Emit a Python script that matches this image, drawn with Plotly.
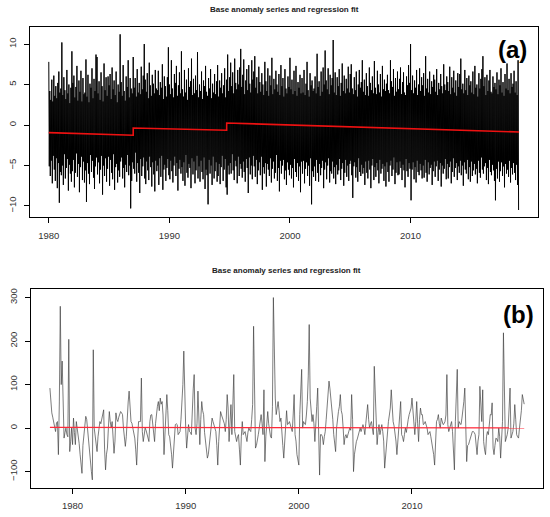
import plotly.graph_objects as go

# (a) daily base anomaly, read as 24 samples a year (alternating peaks), 1980-2018
anom_1980s = [
    7.8, -5.1, 4.2, -6.3, 3.1, -4.4, 5.6, -7.2, 2.9, -3.8, 6.1, -5.5, 3.6, -6.9, 4.8, -4.1, 3.3, -7.8, 5.2, -4.7, 6.6, -9.6, 4.0, -5.8,
    4.5, -6.2, 10.2, -5.0, 3.7, -7.4, 5.9, -3.6, 4.3, -6.6, 3.2, -5.3, 6.8, -4.2, 3.9, -8.1, 5.0, -4.9, 2.7, -6.0, 4.6, -7.0, 9.1, -5.7,
    5.2, -4.3, 6.1, -7.7, 3.4, -5.9, 4.7, -3.5, 7.3, -6.4, 3.0, -4.8, 5.5, -8.3, 4.1, -5.2, 6.7, -3.9, 2.9, -6.8, 5.8, -4.5, 3.8, -7.1,
    4.0, -5.6, 8.1, -9.5, 3.5, -4.7, 6.2, -6.0, 2.8, -7.3, 5.1, -3.7, 4.6, -5.8, 7.0, -4.4, 3.3, -6.5, 5.7, -7.9, 4.2, -5.1, 8.7, -4.0,
    8.4, -6.1, 3.9, -4.6, 5.4, -7.2, 3.1, -5.5, 6.5, -3.8, 4.8, -8.6, 2.9, -5.0, 7.6, -6.3, 4.3, -4.1, 5.9, -7.0, 3.6, -5.4, 6.0, -3.9,
    4.9, -7.5, 6.3, -4.3, 3.2, -5.9, 7.1, -6.7, 4.4, -3.6, 5.5, -8.0, 3.7, -5.2, 6.6, -4.8, 2.8, -7.1, 5.0, -5.6, 4.1, -6.4, 11.2, -4.5,
    5.3, -4.0, 3.6, -6.6, 7.4, -5.3, 4.2, -7.7, 3.0, -4.9, 6.0, -5.8, 4.7, -3.7, 8.0, -6.2, 3.4, -5.0, 5.8, -10.3, 4.5, -6.9, 3.9, -4.6,
    8.4, -5.4, 4.6, -6.0, 5.8, -3.4, 3.5, -7.0, 6.9, -4.7, 4.0, -5.9, 5.2, -8.4, 3.8, -4.2, 7.2, -6.3, 4.4, -5.1, 6.1, -4.0, 10.0, -6.6,
    5.6, -7.3, 4.1, -4.5, 6.4, -5.6, 3.3, -6.8, 7.7, -3.9, 4.9, -5.2, 3.6, -7.6, 6.2, -4.6, 5.1, -6.1, 3.9, -8.2, 6.8, -4.4, 4.5, -5.7,
    4.3, -5.0, 6.7, -7.4, 3.7, -4.1, 5.3, -6.4, 4.6, -3.8, 7.5, -8.0, 3.2, -5.5, 6.0, -4.9, 4.8, -6.9, 3.5, -5.3, 5.9, -4.2, 9.6, -6.2,
]
anom_1990s = [
    5.0, -6.7, 3.8, -4.4, 8.0, -5.7, 4.5, -7.1, 3.4, -5.0, 6.3, -3.9, 5.2, -6.3, 7.3, -4.7, 3.6, -8.1, 4.9, -5.4, 6.5, -4.3, 3.9, -6.0,
    9.1, -5.2, 4.4, -6.9, 3.5, -4.6, 6.8, -7.5, 4.0, -3.7, 5.6, -5.9, 3.1, -6.5, 7.0, -4.8, 4.7, -5.3, 5.4, -7.8, 8.2, -4.1, 3.7, -6.1,
    5.7, -4.5, 3.9, -7.2, 6.1, -5.6, 4.3, -3.8, 9.0, -6.6, 3.4, -5.1, 5.0, -7.0, 4.2, -4.4, 6.6, -5.8, 3.2, -6.7, 5.5, -4.0, 4.8, -7.9,
    7.3, -5.5, 4.1, -6.2, 3.6, -9.8, 5.8, -4.3, 4.5, -6.0, 6.9, -5.0, 3.3, -7.4, 5.1, -3.9, 4.0, -6.6, 6.3, -5.7, 3.8, -4.6, 5.4, -7.0,
    7.4, -6.3, 3.5, -4.8, 5.5, -7.3, 4.6, -5.2, 6.4, -3.8, 3.9, -6.9, 4.9, -5.5, 7.0, -4.2, 3.4, -7.7, 5.6, -8.6, 8.7, -5.0, 4.2, -6.1,
    5.9, -4.7, 7.7, -6.0, 4.8, -3.6, 6.5, -5.6, 3.9, -6.8, 8.2, -4.4, 5.2, -5.1, 4.4, -7.2, 6.8, -3.9, 5.0, -6.3, 7.1, -4.8, 9.4, -5.4,
    4.7, -6.5, 6.2, -4.5, 8.1, -5.8, 3.8, -7.0, 5.5, -4.2, 6.9, -5.3, 4.3, -8.4, 7.4, -4.0, 5.1, -6.1, 4.0, -5.0, 8.0, -6.7, 5.6, -3.8,
    6.6, -5.1, 8.5, -6.4, 4.6, -4.3, 5.9, -7.3, 3.9, -5.6, 7.2, -4.6, 5.3, -6.2, 4.1, -3.9, 6.4, -8.0, 5.0, -5.2, 3.7, -6.0, 7.8, -4.7,
    5.4, -7.6, 4.2, -4.8, 7.0, -5.5, 3.6, -6.3, 6.1, -4.1, 4.9, -7.1, 8.3, -5.4, 3.8, -4.5, 5.7, -6.6, 4.4, -5.9, 6.7, -3.7, 5.0, -6.9,
    4.1, -5.3, 6.3, -8.2, 3.7, -4.4, 7.4, -6.0, 4.8, -5.0, 5.8, -4.3, 3.5, -6.7, 6.9, -5.6, 4.5, -7.4, 3.9, -4.6, 6.0, -5.5, 4.7, -6.2,
]
anom_2000s = [
    8.3, -4.9, 4.4, -6.6, 5.6, -5.3, 3.8, -7.7, 6.7, -4.2, 4.2, -5.8, 7.3, -6.4, 3.6, -4.7, 5.3, -6.9, 4.6, -5.1, 6.2, -8.3, 3.9, -4.5,
    5.8, -6.0, 4.0, -4.4, 6.8, -7.2, 3.7, -5.4, 5.1, -4.6, 7.8, -6.3, 4.3, -5.0, 3.5, -7.5, 6.4, -4.1, 4.9, -9.8, 5.5, -5.7, 4.2, -6.4,
    4.5, -5.1, 6.0, -6.9, 3.9, -4.3, 8.8, -5.9, 4.7, -7.0, 5.4, -4.8, 3.6, -6.2, 6.6, -5.3, 4.1, -4.4, 7.1, -7.8, 5.0, -5.5, 9.2, -4.6,
    5.5, -6.7, 4.4, -5.0, 7.0, -4.1, 3.8, -7.1, 6.2, -5.7, 4.9, -6.0, 5.8, -4.5, 10.5, -6.6, 4.0, -5.2, 6.5, -7.3, 3.7, -4.9, 5.9, -6.1,
    4.8, -5.6, 6.9, -4.2, 3.6, -6.8, 5.2, -5.4, 7.6, -4.7, 4.2, -7.5, 6.1, -5.9, 3.9, -4.3, 5.7, -6.4, 4.5, -5.0, 7.2, -6.9, 4.0, -4.8,
    6.3, -4.4, 7.5, -6.2, 4.5, -9.0, 3.8, -5.1, 5.9, -4.6, 4.3, -6.5, 6.6, -5.2, 3.5, -7.0, 5.0, -4.1, 6.8, -5.8, 4.6, -6.3, 5.3, -4.9,
    8.0, -6.0, 4.1, -5.3, 5.6, -7.4, 3.7, -4.5, 6.4, -5.9, 4.8, -6.6, 3.6, -4.4, 7.1, -5.5, 5.2, -7.8, 4.3, -5.0, 6.0, -4.2, 3.9, -6.8,
    7.9, -5.2, 4.6, -6.4, 3.8, -4.7, 6.7, -5.6, 5.0, -7.2, 4.0, -4.3, 6.3, -6.0, 3.5, -5.4, 7.3, -4.8, 4.4, -6.9, 5.6, -5.1, 4.2, -7.6,
    5.1, -4.6, 6.2, -5.8, 4.3, -7.0, 3.9, -5.0, 8.0, -4.4, 5.4, -6.3, 4.7, -5.5, 6.9, -4.0, 3.6, -7.3, 5.8, -5.9, 4.1, -4.6, 6.6, -6.2,
    4.4, -6.1, 5.7, -4.5, 7.1, -5.3, 3.8, -6.8, 5.3, -4.9, 6.5, -5.6, 4.0, -7.7, 3.7, -4.2, 6.0, -5.7, 4.9, -6.4, 7.4, -4.7, 5.2, -5.4,
]
anom_2010s = [
    10.0, -9.3, 4.3, -5.5, 6.1, -4.6, 3.9, -6.7, 5.5, -5.2, 4.6, -7.1, 6.8, -4.4, 3.7, -5.8, 5.0, -6.2, 7.0, -4.8, 4.2, -5.6, 5.9, -6.6,
    4.9, -5.0, 6.4, -6.5, 3.6, -4.3, 8.5, -5.9, 4.5, -7.0, 5.7, -4.6, 4.0, -6.1, 6.6, -5.3, 3.8, -4.9, 5.4, -7.4, 4.7, -5.7, 6.2, -4.5,
    5.6, -6.4, 4.1, -5.1, 6.9, -4.4, 3.7, -6.9, 5.2, -5.5, 4.4, -4.7, 6.3, -7.6, 4.8, -5.0, 3.9, -6.0, 7.5, -5.4, 5.0, -4.2, 4.3, -6.7,
    6.0, -4.8, 5.3, -6.6, 4.2, -5.2, 7.2, -4.5, 3.8, -7.2, 5.9, -5.8, 4.6, -4.1, 6.7, -6.4, 4.0, -5.3, 5.5, -4.7, 3.6, -6.8, 6.4, -5.1,
    4.7, -5.9, 6.3, -4.4, 8.2, -6.2, 4.4, -5.0, 5.1, -7.5, 3.9, -4.6, 6.8, -5.5, 4.3, -6.0, 5.8, -4.3, 3.7, -6.7, 6.1, -5.2, 4.9, -7.0,
    5.4, -4.5, 4.0, -6.3, 6.6, -5.6, 3.8, -4.8, 7.3, -6.1, 4.6, -5.4, 5.0, -7.2, 3.5, -4.4, 6.4, -5.9, 4.5, -6.5, 5.7, -4.0, 6.9, -5.5,
    8.5, -6.0, 4.8, -5.1, 5.9, -4.7, 3.7, -6.8, 6.2, -5.3, 4.2, -7.3, 5.5, -4.3, 6.8, -5.8, 4.1, -6.2, 3.9, -4.9, 6.0, -5.6, 4.7, -6.9,
    5.2, -9.3, 4.4, -5.4, 6.5, -6.6, 3.8, -4.5, 5.6, -7.0, 4.9, -5.7, 7.0, -4.6, 4.0, -6.3, 5.3, -5.1, 3.6, -7.7, 6.3, -4.8, 4.5, -6.0,
    7.6, -5.5, 4.3, -6.4, 5.7, -4.4, 3.9, -7.1, 6.4, -5.3, 4.7, -6.1, 5.1, -4.7, 6.7, -5.9, 4.0, -6.8, 5.4, -4.9, 3.7, -7.4, 8.0, -10.5,
]
daily_anom = anom_1980s + anom_1990s + anom_2000s + anom_2010s
daily_years = [1980 + i / 24 for i in range(len(daily_anom))]

# piecewise regression fit for (a)
fit_a_years = [1980, 1987.0, 1987.0, 1994.75, 1994.75, 2019]
fit_a_vals = [-0.94, -1.27, -0.37, -0.65, 0.25, -0.86]

# (b) monthly anomaly 1978-2019
monthly_1978_1989 = [
    92, 55, 35, 25, 10, -2, -8, 12, 15, -61, 60, 280,
    100, 154, 30, -23, -10, 0, -15, -20, 204, -54, -30, 0,
    -38, 23, -10, -38, 15, 0, -15, -35, -60, -80, -104, -40,
    -15, 10, 27, 20, -8, -20, -50, -77, -100, -119, 180, 0,
    -15, -40, -54, -20, 0, 15, 10, 23, 30, 42, -50, -96,
    -60, -46, 0, 38, 15, 0, 15, -20, -58, -30, 35, 20,
    15, 25, 31, 38, 35, 31, 0, -31, -42, -20, 42, 60,
    85, 40, 15, 11, 0, -8, -23, -50, -85, -30, 15, 15,
    15, 115, -8, -31, -10, 0, -5, -15, -25, -31, 15, 30,
    31, 10, 0, -31, 10, 38, 50, 61, 40, 69, 55, 61,
    30, -61, 0, 20, 77, 40, -15, -20, -38, -60, -92, -50,
    -31, 8, 10, 8, -15, -10, -8, 20, 54, 100, 177, 30,
]
monthly_1990_1999 = [
    0, -46, -20, 8, -8, -10, -15, 69, 90, 123, 0, -15,
    10, 85, 31, -38, 20, 61, 40, 31, -10, -31, -50, -69,
    -61, -40, -15, 5, 23, 15, 8, 0, -8, -40, -85, -31,
    10, 38, 30, 23, 15, 10, -8, 20, 77, 46, -31, 10,
    54, -15, 60, 123, -8, -20, -31, -20, -15, -50, -85, -20,
    15, -15, -10, -8, -20, -31, -10, 0, -5, -8, 20, 54,
    234, 54, -46, -40, -31, -15, 0, 15, 31, 10, -15, 88,
    -77, -20, 15, 38, 10, -15, -20, -23, 50, 300, 120, 69,
    31, 50, 61, 40, 15, 23, 0, -40, -69, -30, -15, 40,
    8, 10, 15, 5, 0, -8, 30, 77, -15, -30, -61, -75,
]
monthly_2000_2009 = [
    -85, 31, 80, 135, 0, 15, 10, 8, 30, 61, 120, 238,
    69, 38, 15, 31, 10, -31, 0, 50, 92, -20, -108, -15,
    -15, -20, -38, -20, -8, 20, 46, 80, 108, 90, 69, 46,
    20, -15, -30, -54, 0, 23, 38, 50, 77, 40, 31, 0,
    -38, -20, -15, -23, -15, -8, 0, -5, 77, 20, -100, -60,
    -38, -31, -25, -15, -5, 0, -8, -2, 8, 0, -15, 10,
    46, 54, 20, 0, 10, 15, 0, -15, 142, 60, 23, -38,
    -10, 8, -15, -5, 8, -8, -30, -92, -60, -31, 0, 15,
    30, 46, 88, 50, 15, 5, -8, -30, -61, -20, 0, 30,
    61, -15, -20, -31, -15, 0, -10, 15, 20, 31, 40, 46,
]
monthly_2010_2019 = [
    69, 40, 31, -15, 15, 61, 10, -31, 20, 46, 31, 31,
    8, 10, 15, 8, 0, -15, -10, -8, -20, -31, -50, -61,
    -85, -38, 15, 20, 31, 10, 0, 23, 15, 8, 10, 15,
    30, 123, 8, -8, 0, 10, 15, -8, -50, -96, 15, 80,
    135, 0, 15, 10, 8, 23, 40, 61, 92, 20, -77, -40,
    -38, -30, -23, -15, -8, -8, -10, -15, -40, -61, -30, -15,
    96, 40, 15, 88, -31, -50, -61, -20, -8, -15, 10, 31,
    30, 58, -46, -61, -40, -23, -25, -31, 0, -20, -69, -30,
    15, 219, 15, -31, -23, -15, 0, 50, 92, -23, -15, -8,
    10, 54, 20, -15, -20, -23, 0, 15, 40, 77, 62, 55,
]
monthly_anom = monthly_1978_1989 + monthly_1990_1999 + monthly_2000_2009 + monthly_2010_2019
monthly_years = [1978 + i / 12 for i in range(len(monthly_anom))]

fit_b_years = [1978, 2019.92]
fit_b_vals = [1.5, 0.3]

year_ticks = [1980, 1990, 2000, 2010]
ticks_a = [-10, -5, 0, 5, 10]
ticks_b = [-100, 0, 100, 200, 300]

title_text = "Base anomaly series and regression fit"
FONT = "Liberation Sans"

fig = go.Figure()
fig.add_trace(go.Scatter(x=daily_years, y=daily_anom, mode="lines",
                         line=dict(color="black", width=1.0), xaxis="x", yaxis="y"))
fig.add_trace(go.Scatter(x=fit_a_years, y=fit_a_vals, mode="lines",
                         line=dict(color="#ee1111", width=1.6), xaxis="x", yaxis="y"))
fig.add_trace(go.Scatter(x=monthly_years, y=monthly_anom, mode="lines",
                         line=dict(color="#444444", width=0.7), xaxis="x2", yaxis="y2"))
fig.add_trace(go.Scatter(x=fit_b_years, y=fit_b_vals, mode="lines",
                         line=dict(color="#ff2a3a", width=1.3), xaxis="x2", yaxis="y2"))

axis_style = dict(showline=True, mirror=True, linecolor="black", linewidth=1.3,
                  ticks="outside", ticklen=5, tickwidth=1, tickcolor="black",
                  showgrid=False, zeroline=False,
                  tickfont=dict(family=FONT, size=9.5, color="#333333"))

fig.update_layout(
    width=550, height=517,
    margin=dict(l=0, r=0, t=0, b=0),
    paper_bgcolor="white", plot_bgcolor="white",
    showlegend=False,
    xaxis=dict(domain=[0.0545, 0.978], range=[1978.44, 2020.56], tickvals=year_ticks,
               anchor="y", ticklabelstandoff=4, **axis_style),
    yaxis=dict(domain=[0.5797, 0.9472], range=[-11.4, 12.07], tickvals=ticks_a,
               tickangle=-90, anchor="x", ticklabelstandoff=4, **axis_style),
    xaxis2=dict(domain=[0.0564, 0.9873], range=[1976.33, 2021.58], tickvals=year_ticks,
                anchor="y2", ticklabelstandoff=4, **axis_style),
    yaxis2=dict(domain=[0.0567, 0.4404], range=[-137, 319], tickvals=ticks_b,
                tickangle=-90, anchor="x2", ticklabelstandoff=4, **axis_style),
)

title_font = dict(family=FONT, size=8, color="#222222")
label_font = dict(family=FONT, size=24, color="black")
fig.add_annotation(text="<b>" + title_text + "</b>", xref="paper", yref="paper",
                   x=284 / 550, y=1 - 9 / 517, showarrow=False, font=title_font,
                   xanchor="center", yanchor="middle")
fig.add_annotation(text="<b>" + title_text + "</b>", xref="paper", yref="paper",
                   x=286 / 550, y=1 - 270 / 517, showarrow=False, font=title_font,
                   xanchor="center", yanchor="middle")
fig.add_annotation(text="<b>(a)</b>", xref="paper", yref="paper",
                   x=512 / 550, y=1 - 50 / 517, showarrow=False, font=label_font,
                   xanchor="center", yanchor="middle")
fig.add_annotation(text="<b>(b)</b>", xref="paper", yref="paper",
                   x=518 / 550, y=1 - 314 / 517, showarrow=False, font=label_font,
                   xanchor="center", yanchor="middle")

# drop the page's default body margin so the figure sits at the window's corner
fig.write_html("out.html", config={"displayModeBar": False},
               post_script="document.body.style.margin = '0';")
